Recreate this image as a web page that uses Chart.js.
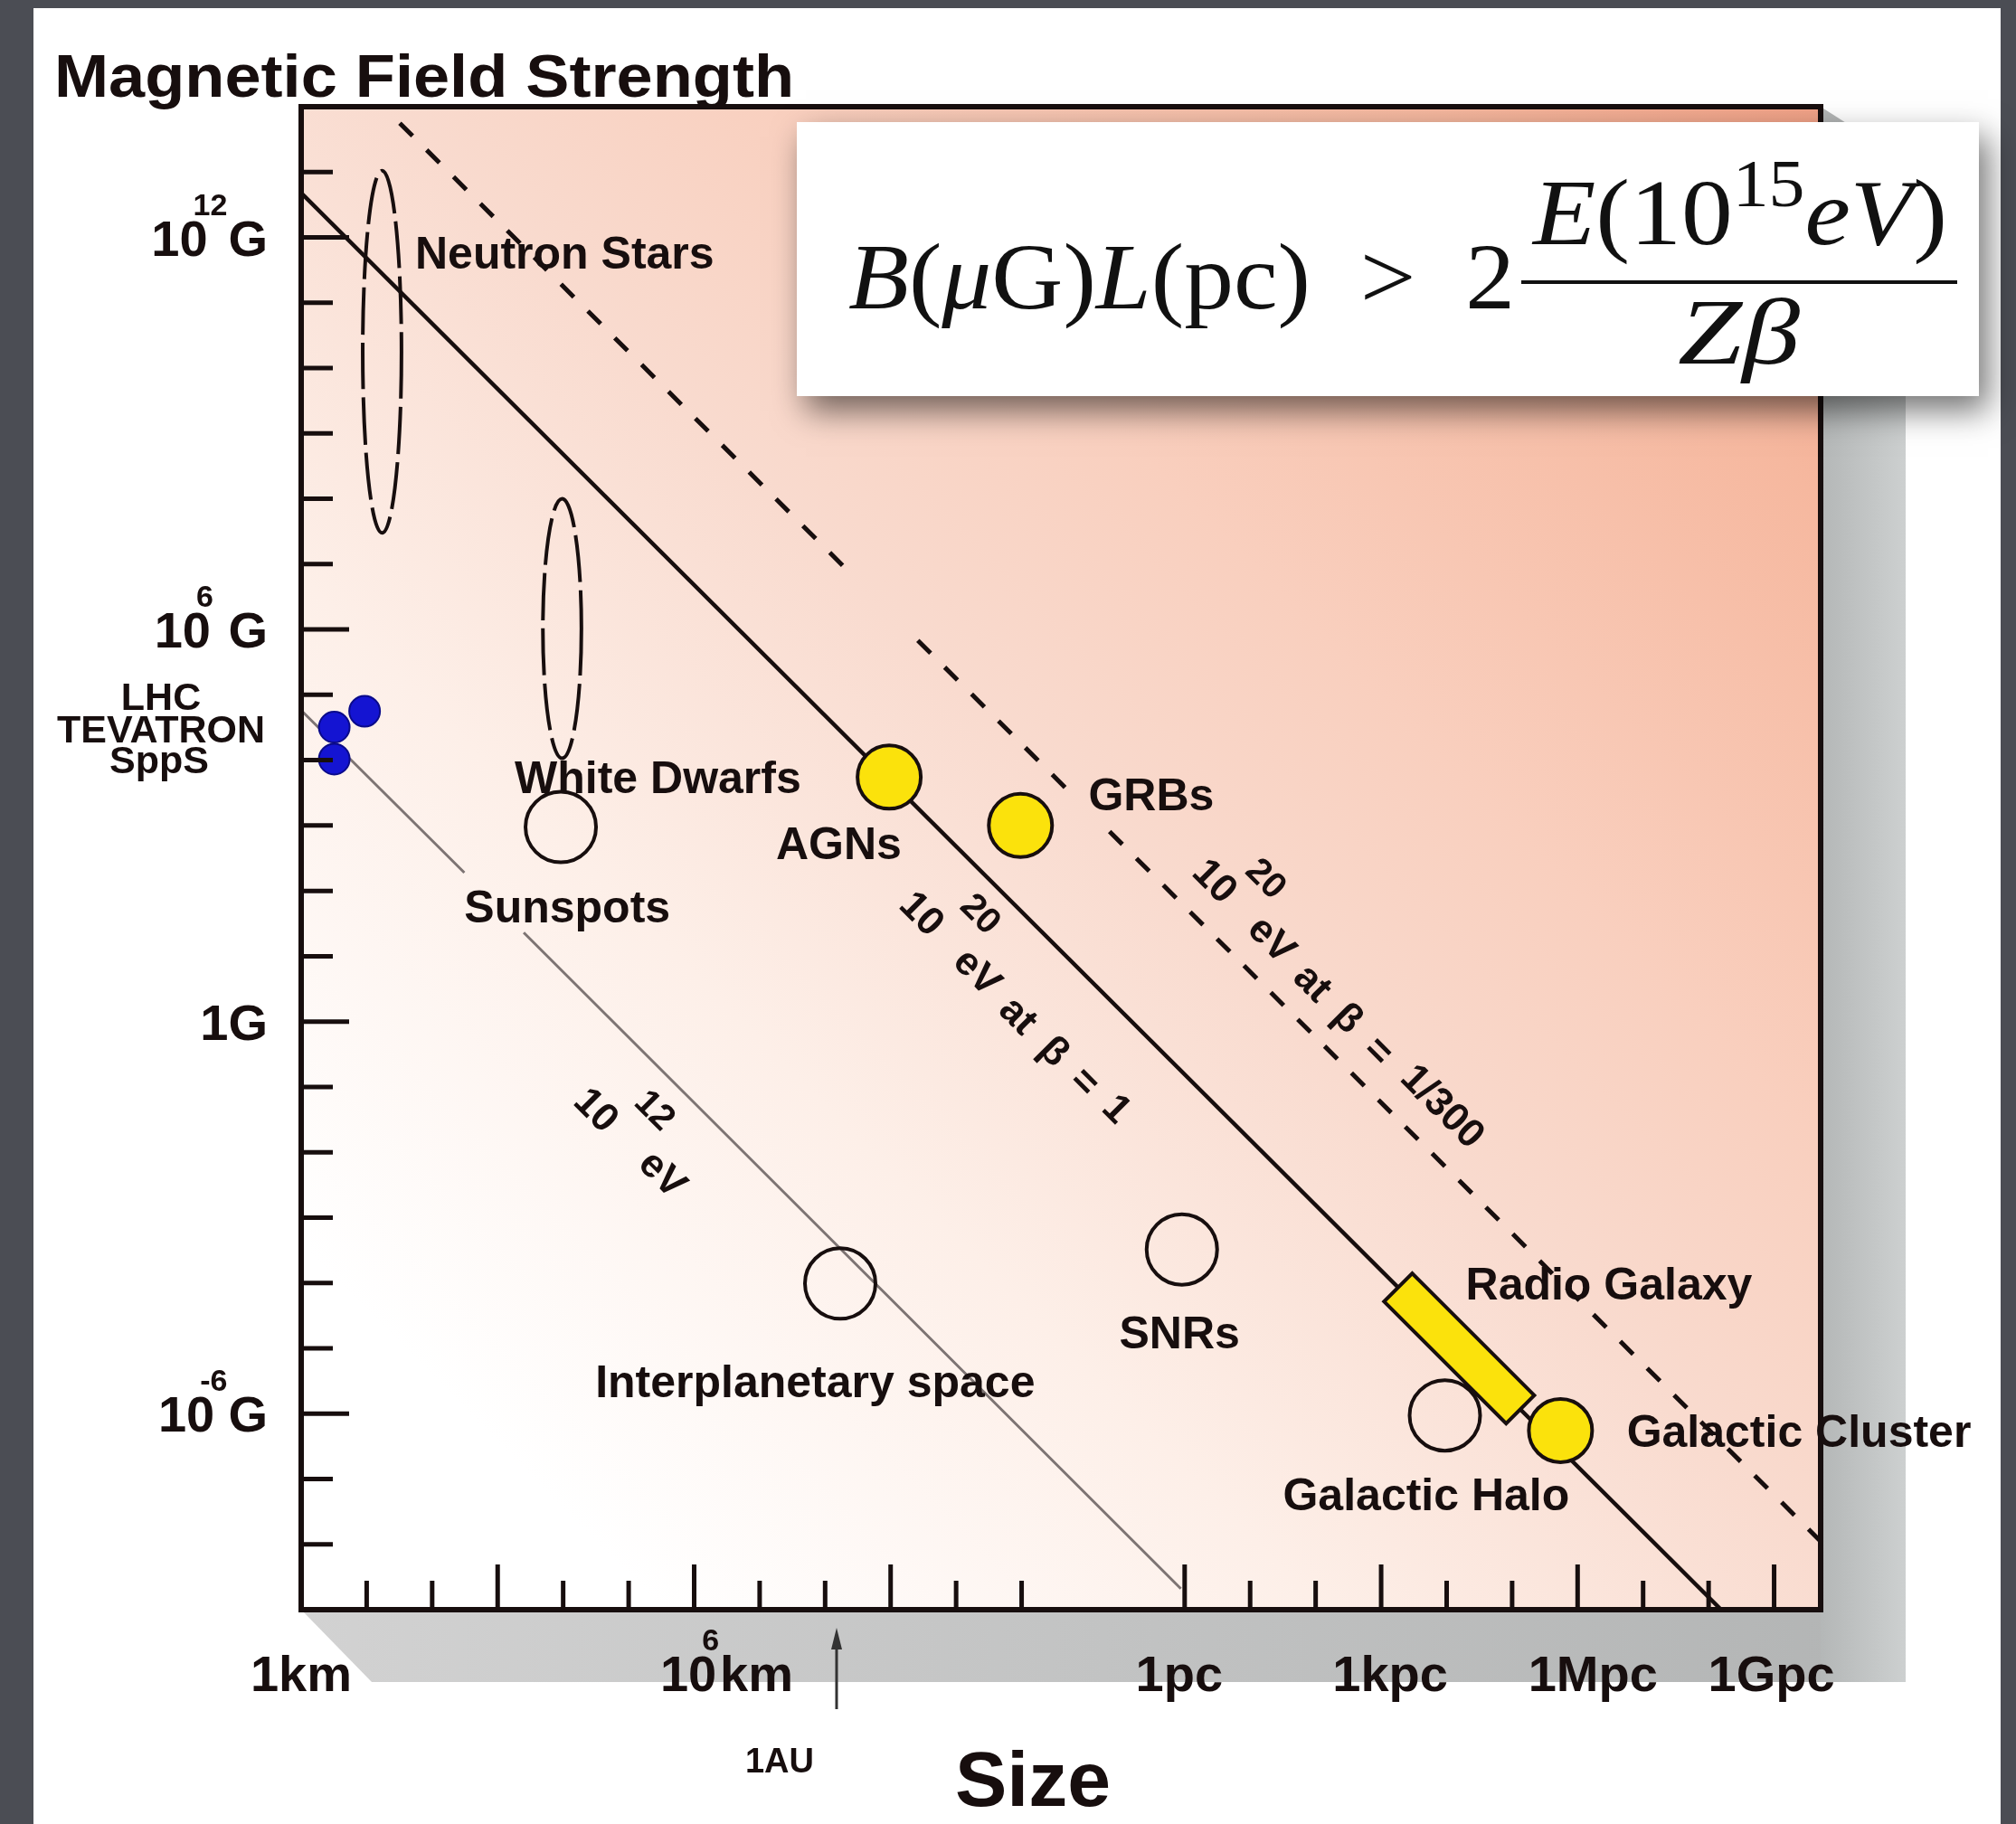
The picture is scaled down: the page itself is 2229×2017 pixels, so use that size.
<!DOCTYPE html>
<html>
<head>
<meta charset="utf-8">
<title>Magnetic Field Strength vs Size</title>
<style>
  html, body { margin: 0; padding: 0; background: #ffffff; }
  #wrap { position: relative; width: 2229px; height: 2017px; }
  canvas { display: block; }
</style>
<script src="https://cdn.jsdelivr.net/npm/chart.js@4.4.0/dist/chart.umd.min.js"></script>
</head>
<body>
<div id="wrap"><canvas id="myChart" width="2229" height="2017"></canvas></div>
<script>
// Hillas plot: size of the source (km) against magnetic field (gauss)

const PC = 3.086e13;   // km in a parsec
const AU = 1.496e8;    // km in an astronomical unit

// collider points (LHC, TEVATRON, SppS)
const colliderSize = [9.3, 3.2, 3.2];
const colliderField = [5.6e4, 3.2e4, 1.04e4];

// open circles: Sunspots, Interplanetary space, SNRs, Galactic Halo
const openSize = [9.2e3, 1.7e8, 2.8e13, 2.9e17];
const openField = [950, 9.8e-5, 3.25e-4, 9.4e-7];

// yellow circles: AGNs, GRBs, Galactic Cluster
const yellowSize = [9.5e8, 9.6e10, 1.69e19];
const yellowField = [5.5e3, 1.0e3, 5.5e-7];

// radio galaxy bar (axis of the bar)
const radioSize = [9.2e16, 2.5e18];
const radioField = [5.2e-5, 1.9e-6];

// 10^12 eV line, broken where the Sunspots label sits
const tevSize = [1, 310, 900, 2.5e3, 2.7e13];
const tevField = [5.8e4, 190, null, 23, 2.1e-9];

// 10^20 eV at beta = 1
const fastSize = [1, 4.8e21];
const fastField = [4.8e12, 1e-9];

// 10^20 eV at beta = 1/300 (dashed), broken twice
const slowSize = [32, 2.8e8, 9e8, 2.6e9, 6.3e11, 1.2e12, 2.2e12, 1.6e23];
const slowField = [5.6e13, 6.3e6, null, 6.8e5, 2.8e3, null, 8.1e2, 1.1e-8];

// dashed ellipses
const neutronSize = [8.7, 34];
const neutronField = [3.0e7, 1.05e13];
const dwarfSize = [4.9e3, 1.9e4];
const dwarfField = [1.07e4, 1.0e8];

// axis ticks
const kmTicks = [10, 100, 1e3, 1e4, 1e5, 1e6, 1e7, 1e8, 1e9, 1e10, 1e11];
const kmLong = [1e3, 1e6, 1e9];
const pcTicks = [1, 10, 100, 1e3, 1e4, 1e5, 1e6, 1e7, 1e8, 1e9];
const pcLong = [1, 1e3, 1e6, 1e9];
const fieldTicks = [1e-8, 1e-7, 1e-6, 1e-5, 1e-4, 1e-3, 1e-2, 1e-1, 1, 10, 100, 1e3, 1e4, 1e5, 1e6, 1e7, 1e8, 1e9, 1e10, 1e11, 1e12, 1e13];
const fieldLong = [1e-6, 1, 1e6, 1e12];

const sizeLabelValues = [1, 1e6, PC, 1e3 * PC, 1e6 * PC, 1e9 * PC];
const sizeLabels = ['1km', '10^{6}km', '1pc', '1kpc', '1Mpc', '1Gpc'];
const sizeLabelNudge = [0, 36, -6, 10, 17, -3];
const fieldLabelValues = [1e12, 1e6, 1, 1e-6];
const fieldLabels = ['10^{12}G', '10^{6} G', '1G', '10^{-6}G'];

// text labels: [text, log10 size at left edge, log10 field at baseline]
const notes = [
  ['Neutron Stars', 1.74, 11.52],
  ['White Dwarfs', 3.26, 3.50],
  ['Sunspots', 2.49, 1.52],
  ['AGNs', 7.25, 2.49],
  ['GRBs', 12.02, 3.23],
  ['Interplanetary space', 4.49, -5.75],
  ['SNRs', 12.49, -5.0],
  ['Radio Galaxy', 17.78, -4.25],
  ['Galactic Cluster', 20.24, -6.51],
  ['Galactic Halo', 14.99, -7.48]
];

// labels written along the lines, pieces: [text, along, up, superscript]
const slanted = [
  { at: [9.461, 1.634], parts: [['10', 0, 0], ['20', 46, 46, 1], ['eV', 89, -2], ['at', 155, -4], ['β', 211, -4], ['=', 259, -4], ['1', 305, 0]] },
  { at: [13.936, 2.133], parts: [['10', 0, 0], ['20', 38, 42, 1], ['eV', 90, -1], ['at', 156, -3], ['β', 211, -3], ['=', 261, -5], ['1/300', 354, 2]] },
  { at: [4.489, -1.371], parts: [['10', 0, 0], ['12', 46, 46, 1], ['eV', 102, 2]] }
];

const W = 2229, H = 2017;
const FONT = '"Liberation Sans", Arial, Helvetica, sans-serif';
const SERIF = '"Liberation Serif", "Times New Roman", serif';
const INK = '#170e0e';
const YELLOW = '#fbe20c';

function pts(xs, ys) {
  return xs.map((x, i) => ({ x: x, y: ys[i] }));
}

function bold(ctx, size) {
  ctx.font = 'bold ' + size + 'px ' + FONT;
}

function fitText(ctx, s, x, y, width) {
  const w = ctx.measureText(s).width;
  ctx.save();
  ctx.translate(x, y);
  ctx.scale(width / w, 1);
  ctx.fillText(s, 0, 0);
  ctx.restore();
}

// text like 10^{6}km with a raised part
function supLabel(ctx, label, x, y, size, align) {
  const m = label.match(/^(.*?)\^\{(.*?)\}(.*)$/);
  const p = m ? [m[1], m[2], m[3]] : [label, '', ''];
  const sup = Math.round(size * 0.6);
  bold(ctx, size);
  const w0 = ctx.measureText(p[0]).width, w2 = ctx.measureText(p[2]).width;
  bold(ctx, sup);
  const w1 = p[1] ? ctx.measureText(p[1]).width : 0;
  const ov = p[1] ? -16 : 0, gap = p[1] ? 1 : 0;
  const total = w0 + ov + w1 + gap + w2;
  const x0 = align === 'right' ? x - total : align === 'center' ? x - total / 2 : x;
  ctx.textAlign = 'left';
  bold(ctx, size);
  ctx.fillText(p[0], x0, y);
  if (p[1]) {
    bold(ctx, sup);
    ctx.fillText(p[1], x0 + w0 + ov, y - size * 0.8);
  }
  bold(ctx, size);
  ctx.fillText(p[2], x0 + w0 + ov + w1 + gap, y);
}

// a run of maths pieces, squeezed to width
function mathRun(ctx, pieces, x, y, size, width) {
  const fontOf = p => (p[1].indexOf('i') >= 0 ? 'italic ' : '') +
    (p[1].indexOf('s') >= 0 ? Math.round(size * 0.7) : size) + 'px ' + SERIF;
  let total = 0;
  const ws = pieces.map(p => { ctx.font = fontOf(p); const w = ctx.measureText(p[0]).width; total += w; return w; });
  ctx.save();
  ctx.translate(x, y);
  ctx.scale(width / total, 1);
  let cx = 0;
  pieces.forEach((p, i) => {
    ctx.font = fontOf(p);
    ctx.fillText(p[0], cx, p[1].indexOf('s') >= 0 ? -size * 0.4 : 0);
    cx += ws[i];
  });
  ctx.restore();
}

const backdrop = {
  id: 'backdrop',
  beforeDraw(chart) {
    const { ctx, chartArea: a } = chart;
    ctx.save();
    ctx.fillStyle = '#ffffff';
    ctx.fillRect(0, 0, W, H);
    ctx.fillStyle = '#4b4d54';
    ctx.fillRect(0, 0, 37, H);
    ctx.fillRect(0, 0, W, 9);
    ctx.fillRect(2212, 0, W - 2212, H);

    // shadow under the plot box
    const sg = ctx.createLinearGradient(a.left, 0, a.right + 94, 0);
    sg.addColorStop(0, '#d2d2d2');
    sg.addColorStop(1, '#b2b4b4');
    ctx.fillStyle = sg;
    ctx.beginPath();
    ctx.moveTo(a.left, a.bottom);
    ctx.lineTo(a.left + 78, a.bottom + 80);
    ctx.lineTo(a.right + 94, a.bottom + 80);
    ctx.lineTo(a.right + 94, a.top + 60);
    ctx.lineTo(a.right, a.top);
    ctx.closePath();
    ctx.fill();
    const rg = ctx.createLinearGradient(a.right, 0, a.right + 94, 0);
    rg.addColorStop(0, '#b4b7b7');
    rg.addColorStop(1, '#cdd0d0');
    ctx.fillStyle = rg;
    ctx.fillRect(a.right, a.top + 60, 94, a.height + 20);

    // plot background, white to salmon
    const g = ctx.createLinearGradient(a.left, a.bottom, a.right, a.top);
    [[0, '#ffffff'], [0.12, '#ffffff'], [0.34, '#fdefe8'], [0.52, '#f9dbcf'],
     [0.66, '#f9cfbe'], [0.87, '#f6b89f'], [1, '#f2a287']].forEach(s => g.addColorStop(s[0], s[1]));
    ctx.fillStyle = g;
    ctx.fillRect(a.left, a.top, a.width, a.height);
    ctx.restore();
  },
  beforeDatasetsDraw(chart) {
    const { ctx, scales: { x: xs, y: ys } } = chart;
    ctx.save();
    ctx.strokeStyle = INK;
    ctx.lineWidth = 4;
    ctx.setLineDash([52, 9]);
    [[neutronSize, neutronField], [dwarfSize, dwarfField]].forEach(e => {
      const x0 = xs.getPixelForValue(e[0][0]), x1 = xs.getPixelForValue(e[0][1]);
      const y0 = ys.getPixelForValue(e[1][0]), y1 = ys.getPixelForValue(e[1][1]);
      ctx.beginPath();
      ctx.ellipse((x0 + x1) / 2, (y0 + y1) / 2, Math.abs(x1 - x0) / 2, Math.abs(y1 - y0) / 2, 0, 0, Math.PI * 2);
      ctx.stroke();
    });
    ctx.restore();
  }
};

const overlay = {
  id: 'overlay',
  afterDatasetsDraw(chart) {
    const { ctx, chartArea: a, scales: { x: xs, y: ys } } = chart;
    ctx.save();

    // ticks inside the box
    ctx.strokeStyle = INK;
    ctx.lineWidth = 5;
    const tick = (x1, y1, x2, y2) => { ctx.beginPath(); ctx.moveTo(x1, y1); ctx.lineTo(x2, y2); ctx.stroke(); };
    kmTicks.forEach(v => {
      const px = xs.getPixelForValue(v);
      tick(px, a.bottom, px, a.bottom - (kmLong.includes(v) ? 50 : 32));
    });
    pcTicks.forEach(v => {
      const px = xs.getPixelForValue(v * PC);
      tick(px, a.bottom, px, a.bottom - (pcLong.includes(v) ? 50 : 32));
    });
    fieldTicks.forEach(v => {
      const py = ys.getPixelForValue(v);
      tick(a.left, py, a.left + (fieldLong.includes(v) ? 53 : 35), py);
    });

    // frame
    ctx.lineWidth = 6;
    ctx.strokeRect(a.left, a.top, a.width, a.height);

    ctx.fillStyle = INK;
    ctx.textBaseline = 'alphabetic';

    // tick labels
    fieldLabels.forEach((s, i) => {
      supLabel(ctx, s, a.left - 37, ys.getPixelForValue(fieldLabelValues[i]) + 20, 56, 'right');
    });
    sizeLabels.forEach((s, i) => {
      supLabel(ctx, s, xs.getPixelForValue(sizeLabelValues[i]) + sizeLabelNudge[i], a.bottom + 90, 56, 'center');
    });

    // labels on the sources
    bold(ctx, 50);
    ctx.textAlign = 'left';
    notes.forEach(n => {
      ctx.fillText(n[0], xs.getPixelForValue(Math.pow(10, n[1])), ys.getPixelForValue(Math.pow(10, n[2])));
    });

    // labels along the lines
    ctx.textAlign = 'center';
    ctx.textBaseline = 'middle';
    slanted.forEach(s => {
      ctx.save();
      ctx.translate(xs.getPixelForValue(Math.pow(10, s.at[0])), ys.getPixelForValue(Math.pow(10, s.at[1])));
      ctx.rotate(Math.PI / 4);
      s.parts.forEach(p => {
        bold(ctx, p[3] ? 40 : 44);
        ctx.fillText(p[0], p[1], -p[2]);
      });
      ctx.restore();
    });
    ctx.textBaseline = 'alphabetic';

    // colliders
    bold(ctx, 43);
    ctx.textAlign = 'center';
    ctx.fillText('LHC', 178, 785);
    ctx.fillText('TEVATRON', 178, 821);
    ctx.fillText('SppS', 176, 855);

    // title and axis name
    ctx.textAlign = 'left';
    bold(ctx, 66);
    fitText(ctx, 'Magnetic Field Strength', 60, 107, 818);
    bold(ctx, 86);
    ctx.textAlign = 'center';
    ctx.fillText('Size', 1142, 1997);

    // 1 AU marker
    const ax = xs.getPixelForValue(AU);
    ctx.strokeStyle = '#333333';
    ctx.lineWidth = 3;
    ctx.beginPath();
    ctx.moveTo(ax, 1890);
    ctx.lineTo(ax, 1812);
    ctx.stroke();
    ctx.fillStyle = '#333333';
    ctx.beginPath();
    ctx.moveTo(ax, 1800);
    ctx.lineTo(ax - 6, 1824);
    ctx.lineTo(ax + 6, 1824);
    ctx.closePath();
    ctx.fill();
    ctx.fillStyle = INK;
    bold(ctx, 38);
    ctx.fillText('1AU', ax - 63, 1960);

    ctx.restore();
  },
  afterDraw(chart) {
    const ctx = chart.ctx;
    ctx.save();
    // formula box
    ctx.shadowColor = 'rgba(0, 0, 0, 0.55)';
    ctx.shadowBlur = 34;
    ctx.shadowOffsetX = 10;
    ctx.shadowOffsetY = 16;
    ctx.fillStyle = '#ffffff';
    ctx.fillRect(881, 135, 1307, 303);
    ctx.shadowColor = 'rgba(0, 0, 0, 0)';
    ctx.fillStyle = '#111111';
    ctx.textAlign = 'left';
    ctx.textBaseline = 'alphabetic';
    mathRun(ctx, [['B', 'i'], ['(', ''], ['μ', 'i'], ['G', ''], [')', ''], ['L', 'i'], ['(pc)', ''], ['  >  ', ''], ['2', '']],
      938, 341, 104, 737);
    mathRun(ctx, [['E', 'i'], ['(', ''], ['10', ''], ['15', 's'], ['eV', 'i'], [')', '']], 1695, 270, 104, 458);
    mathRun(ctx, [['Zβ', 'i']], 1855, 402, 104, 135);
    ctx.fillRect(1682, 310, 482, 4);
    ctx.restore();
  }
};

const ctx = document.getElementById('myChart').getContext('2d');

const chart = new Chart(ctx, {
  type: 'scatter',
  data: {
    datasets: [
      {
        label: 'AGNs, GRBs, Galactic Cluster',
        data: pts(yellowSize, yellowField),
        pointRadius: 35,
        pointBorderWidth: 4,
        pointBackgroundColor: YELLOW,
        pointBorderColor: INK,
        order: 0
      },
      {
        label: 'Radio Galaxy',
        data: pts(radioSize, radioField),
        showLine: true,
        borderColor: YELLOW,
        borderWidth: 40,
        borderCapStyle: 'square',
        pointRadius: 0,
        order: 1
      },
      {
        label: 'Radio Galaxy edge',
        data: pts(radioSize, radioField),
        showLine: true,
        borderColor: INK,
        borderWidth: 48,
        borderCapStyle: 'square',
        pointRadius: 0,
        order: 2
      },
      {
        label: 'LHC, TEVATRON, SppS',
        data: pts(colliderSize, colliderField),
        pointRadius: 17,
        pointBorderWidth: 2,
        pointBackgroundColor: '#1414d2',
        pointBorderColor: '#0a0a8a',
        order: 3
      },
      {
        label: 'Sunspots, Interplanetary space, SNRs, Galactic Halo',
        data: pts(openSize, openField),
        pointRadius: 39,
        pointBorderWidth: 4,
        pointBackgroundColor: 'rgba(0,0,0,0)',
        pointBorderColor: INK,
        order: 4
      },
      {
        label: '10^20 eV at beta = 1/300',
        data: pts(slowSize, slowField),
        showLine: true,
        borderColor: INK,
        borderWidth: 5,
        borderDash: [20, 22],
        pointRadius: 0,
        order: 5
      },
      {
        label: '10^20 eV at beta = 1',
        data: pts(fastSize, fastField),
        showLine: true,
        borderColor: INK,
        borderWidth: 4.5,
        pointRadius: 0,
        order: 6
      },
      {
        label: '10^12 eV',
        data: pts(tevSize, tevField),
        showLine: true,
        borderColor: '#7d7473',
        borderWidth: 3,
        pointRadius: 0,
        order: 7
      }
    ]
  },
  options: {
    responsive: false,
    devicePixelRatio: 1,
    animation: false,
    events: [],
    layout: {
      padding: { left: 333, top: 118, right: 216, bottom: 237 }
    },
    plugins: {
      legend: { display: false },
      tooltip: { enabled: false }
    },
    scales: {
      x: { type: 'logarithmic', min: 1, max: Math.pow(10, 23.2), display: false },
      y: { type: 'logarithmic', min: 1e-9, max: 1e14, display: false }
    }
  },
  plugins: [backdrop, overlay]
});
</script>
</body>
</html>
